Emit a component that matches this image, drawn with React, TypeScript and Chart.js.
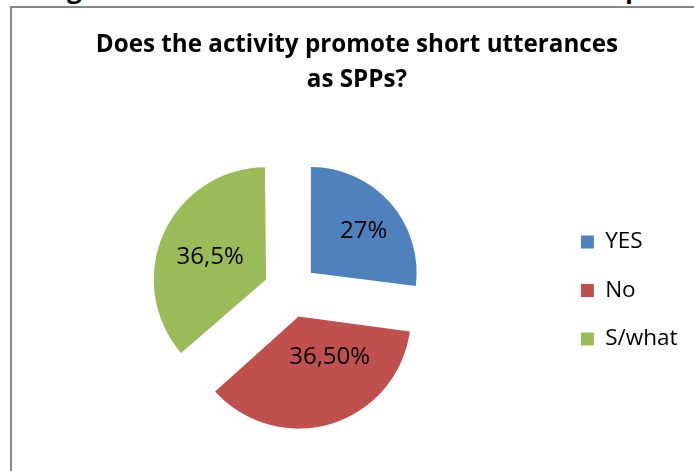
import React, { useEffect, useRef } from "react";
import { Chart, registerables } from "chart.js";

Chart.register(...registerables);

const categories = ["YES", "No", "S/what"];
const values = [27, 36.5, 36.5];
const valueLabels = ["27%", "36,50%", "36,5%"];
const titleLines = ["Does the activity promote short utterances", "as SPPs?"];
const sliceColors = ["#4F81BD", "#C0504D", "#9BBB59"];

const FONT = "'Open Sans', Lato, sans-serif";
const LABEL_RADIAL = [0.633, 0.459, 0.569];
const LABEL_TANGENT = [4, -17.6, -2.7];

export default function App() {
  const ref = useRef<HTMLCanvasElement>(null);

  useEffect(() => {
    const labelPlugin = {
      id: "sliceLabels",
      afterDatasetsDraw(chart: any) {
        const ctx = chart.ctx;
        const meta = chart.getDatasetMeta(0);
        ctx.save();
        ctx.font = `24px ${FONT}`;
        ctx.fillStyle = "#000";
        ctx.textAlign = "center";
        ctx.textBaseline = "middle";
        meta.data.forEach((arc: any, i: number) => {
          const { x, y, startAngle, endAngle, outerRadius } = arc.getProps(
            ["x", "y", "startAngle", "endAngle", "outerRadius"],
            true
          );
          const off = (arc.options.offset || 0) / 4;
          const mid = (startAngle + endAngle) / 2;
          const d = off + LABEL_RADIAL[i] * outerRadius;
          const t = LABEL_TANGENT[i];
          const px = x + Math.cos(mid) * d - Math.sin(mid) * t;
          const py = y + Math.sin(mid) * d + Math.cos(mid) * t;
          ctx.fillText(valueLabels[i], px, py);
        });
        ctx.restore();
      },
    };

    const chart = new Chart(ref.current as HTMLCanvasElement, {
      type: "pie",
      data: {
        labels: categories,
        datasets: [
          {
            data: values,
            backgroundColor: sliceColors,
            borderWidth: 0,
            offset: 108,
            radius: 105.5,
          } as any,
        ],
      },
      options: {
        responsive: false,
        animation: false,
        events: [],
        layout: { padding: { left: 14.4, right: 10.5, top: 0, bottom: 0 } },
        plugins: {
          title: {
            display: true,
            text: titleLines,
            color: "#000",
            font: { family: FONT, size: 24.2, weight: "bold", lineHeight: 1.46 },
            padding: { top: 19.5, bottom: 10 },
          },
          legend: {
            display: true,
            position: "right",
            fullSize: false,
            align: "center",
            labels: {
              boxWidth: 13,
              boxHeight: 13,
              padding: 26,
              color: "#000",
              font: { family: FONT, size: 22.5 },
            },
          },
          tooltip: { enabled: false },
        },
      } as any,
      plugins: [labelPlugin],
    });
    return () => chart.destroy();
  }, []);

  return (
    <div style={{ position: "fixed", inset: 0, overflow: "hidden", background: "#fff" }}>
      <span
        style={{
          position: "absolute",
          left: 67,
          top: -25,
          font: `bold 26px ${FONT}`,
          lineHeight: 1,
          color: "#000",
        }}
      >
        g
      </span>
      <span
        style={{
          position: "absolute",
          left: 625,
          top: -25,
          font: `bold 26px ${FONT}`,
          lineHeight: 1,
          color: "#000",
        }}
      >
        p
      </span>
      <div
        style={{
          position: "absolute",
          left: 10,
          top: 6,
          width: 720,
          height: 500,
          border: "2px solid #878787",
          background: "#fff",
        }}
      >
        <canvas ref={ref} width={686} height={465} style={{ display: "block", width: 686, height: 465 }} />
      </div>
    </div>
  );
}
